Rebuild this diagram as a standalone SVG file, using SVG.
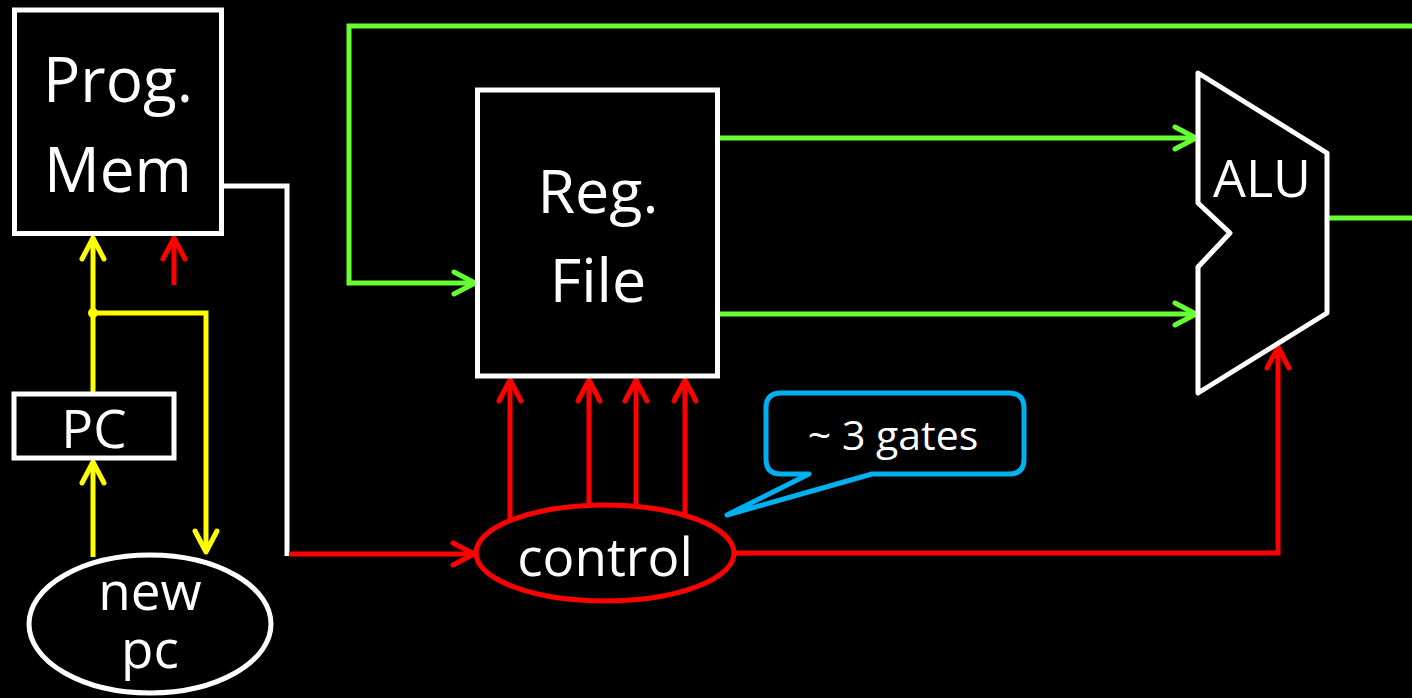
<svg xmlns="http://www.w3.org/2000/svg" width="1412" height="698" viewBox="0 0 1412 698">
<style>
.box{fill:#000;stroke:#fff;stroke-width:5}
.t{font-family:"Open Sans","Noto Sans",sans-serif;fill:#fff;text-anchor:middle}
.w{fill:none;stroke:#fff;stroke-width:5}
.y{fill:none;stroke:#ffff00;stroke-width:5}
.r{fill:none;stroke:#ff0000;stroke-width:5}
.g{fill:none;stroke:#66ff33;stroke-width:5}
</style>
<defs>
<marker id="ay" markerUnits="userSpaceOnUse" markerWidth="30" markerHeight="30" viewBox="-26 -15 30 30" refX="0" refY="0" orient="auto"><path d="M-21,-11 L0,0 L-21,11" fill="none" stroke="#ffff00" stroke-width="5" stroke-linecap="round" stroke-linejoin="round"/></marker>
<marker id="ar" markerUnits="userSpaceOnUse" markerWidth="30" markerHeight="30" viewBox="-26 -15 30 30" refX="0" refY="0" orient="auto"><path d="M-21,-11 L0,0 L-21,11" fill="none" stroke="#ff0000" stroke-width="5" stroke-linecap="round" stroke-linejoin="round"/></marker>
<marker id="ag" markerUnits="userSpaceOnUse" markerWidth="30" markerHeight="30" viewBox="-26 -15 30 30" refX="0" refY="0" orient="auto"><path d="M-21,-11 L0,0 L-21,11" fill="none" stroke="#66ff33" stroke-width="5" stroke-linecap="round" stroke-linejoin="round"/></marker>
</defs>
<rect x="0" y="0" width="1412" height="698" fill="#000"/>
<g id="connectors">
<path class="g" d="M1412,26 H349 V283 H475" marker-end="url(#ag)"/>
<path class="g" d="M720,138 H1196" marker-end="url(#ag)"/>
<path class="g" d="M720,314 H1196" marker-end="url(#ag)"/>
<path class="g" d="M1327,218 H1412"/>
<path class="w" d="M222,186 H287 V556"/>
<path class="r" d="M289,554 H474" marker-end="url(#ar)"/>
<path class="r" d="M735,553 H1278 V347" marker-end="url(#ar)"/>
<path class="r" d="M510,520 V380" marker-end="url(#ar)"/>
<path class="r" d="M589,506 V380" marker-end="url(#ar)"/>
<path class="r" d="M636,506 V380" marker-end="url(#ar)"/>
<path class="r" d="M685,515 V380" marker-end="url(#ar)"/>
<path class="r" d="M174,285 V238" marker-end="url(#ar)"/>
<path class="y" d="M93,392 V238" marker-end="url(#ay)"/>
<path class="y" d="M93,313 H206 V552" marker-end="url(#ay)"/>
<path class="y" d="M93,557 V462" marker-end="url(#ay)"/>
<circle cx="93" cy="313" r="5" fill="#ffff00"/>
</g>
<g id="progmem">
<rect class="box" x="14.5" y="10" width="207" height="223.5"/>
<text class="t" x="118" y="102" font-size="62">Prog.</text>
<text class="t" x="118" y="192" font-size="62">Mem</text>
</g>
<g id="pc">
<rect class="box" x="14" y="394" width="160" height="64"/>
<text class="t" x="94" y="448" font-size="53">PC</text>
</g>
<g id="newpc">
<ellipse cx="150" cy="624" rx="121" ry="69" fill="#000" stroke="#fff" stroke-width="5"/>
<text class="t" x="150" y="610" font-size="53">new</text>
<text class="t" x="150" y="668" font-size="53">pc</text>
</g>
<g id="regfile">
<rect class="box" x="477.5" y="90" width="240" height="286"/>
<text class="t" x="598" y="213" font-size="61">Reg.</text>
<text class="t" x="598" y="302" font-size="61">File</text>
</g>
<g id="alu">
<path d="M1198,73 L1327,153 L1327,313 L1198,393 L1198,267 L1230,233 L1198,203 Z" fill="#000" stroke="#fff" stroke-width="5" stroke-linejoin="round"/>
<text class="t" x="1262" y="197" font-size="52">ALU</text>
</g>
<g id="control">
<ellipse cx="605" cy="553" rx="129" ry="48" fill="#000" stroke="#ff0000" stroke-width="5"/>
<text class="t" x="605" y="576" font-size="53">control</text>
</g>
<g id="callout">
<path d="M781,393 H1009 Q1024,393 1024,408 V459 Q1024,474 1009,474 H872 L727,515 L809,474 H781 Q766,474 766,459 V408 Q766,393 781,393 Z" fill="#000" stroke="#00b0f0" stroke-width="5" stroke-linejoin="round"/>
<text class="t" x="893" y="450" font-size="41">~ 3 gates</text>
</g>
</svg>
